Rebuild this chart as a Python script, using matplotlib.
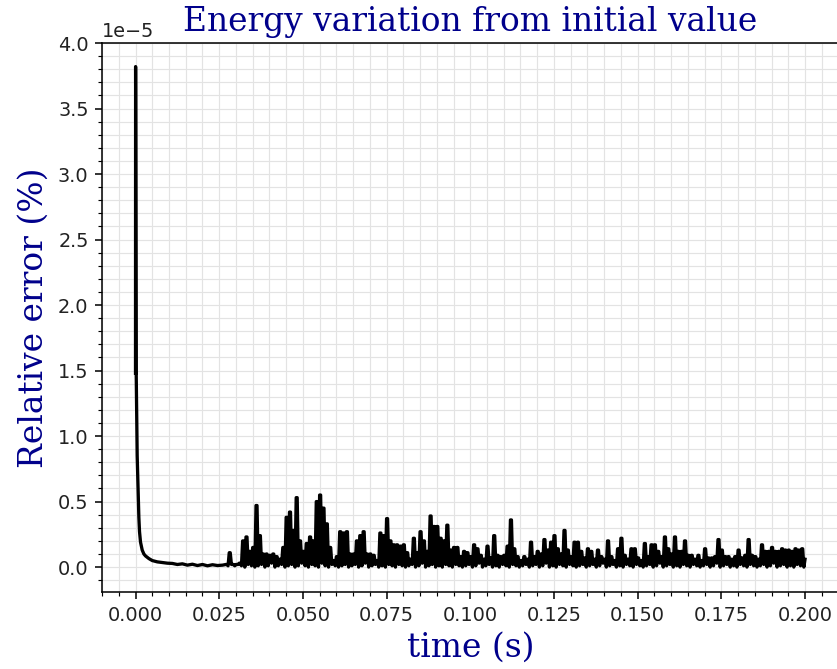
import matplotlib
matplotlib.use("Agg")
import matplotlib.pyplot as plt
from matplotlib.ticker import MultipleLocator
import numpy as np

# start of the run: jump then fast decay (time in s, error in units of 1e-5 %)
t_start = [0.0, 0.00003, 0.0002, 0.0005, 0.0008, 0.0010, 0.0012, 0.0015, 0.0020,
           0.0025, 0.0030, 0.0040, 0.0050, 0.0065, 0.0080, 0.0095, 0.0110, 0.0125,
           0.0140, 0.0155, 0.0170, 0.0185, 0.0200, 0.0215, 0.0230, 0.0245, 0.0260]
err_start = [1.48, 3.82, 1.50, 0.85, 0.55, 0.38, 0.27, 0.19, 0.13,
             0.10, 0.085, 0.065, 0.05, 0.04, 0.035, 0.03, 0.028, 0.02,
             0.025, 0.015, 0.022, 0.012, 0.02, 0.01, 0.018, 0.012, 0.015]

# noisy part, upper values every 1 ms from 27 ms to 200 ms
t_hi_ms = list(range(27, 201))
err_hi = [
    0.02, 0.11, 0.02, 0.02, 0.03, 0.20, 0.23, 0.12, 0.15, 0.47,  # 27-36
    0.24, 0.10, 0.10, 0.09, 0.10, 0.08, 0.06, 0.15, 0.38, 0.42,  # 37-46
    0.28, 0.53, 0.20, 0.12, 0.18, 0.23, 0.20, 0.50, 0.55, 0.45,  # 47-56
    0.33, 0.15, 0.05, 0.08, 0.27, 0.26, 0.27, 0.10, 0.10, 0.20,  # 57-66
    0.24, 0.27, 0.10, 0.10, 0.09, 0.05, 0.26, 0.24, 0.37, 0.20,  # 67-76
    0.17, 0.17, 0.16, 0.17, 0.11, 0.06, 0.22, 0.11, 0.27, 0.20,  # 77-86
    0.12, 0.39, 0.31, 0.31, 0.22, 0.20, 0.32, 0.13, 0.15, 0.15,  # 87-96
    0.08, 0.12, 0.11, 0.08, 0.17, 0.14, 0.09, 0.06, 0.16, 0.07,  # 97-106
    0.24, 0.09, 0.08, 0.09, 0.16, 0.36, 0.14, 0.08, 0.05, 0.08,  # 107-116
    0.06, 0.19, 0.08, 0.12, 0.10, 0.21, 0.13, 0.19, 0.24, 0.14,  # 117-126
    0.10, 0.28, 0.13, 0.08, 0.19, 0.19, 0.12, 0.07, 0.14, 0.12,  # 127-136
    0.06, 0.13, 0.08, 0.06, 0.20, 0.08, 0.05, 0.14, 0.22, 0.09,  # 137-146
    0.06, 0.14, 0.14, 0.07, 0.05, 0.18, 0.08, 0.17, 0.17, 0.12,  # 147-156
    0.08, 0.23, 0.14, 0.10, 0.23, 0.12, 0.12, 0.20, 0.09, 0.09,  # 157-166
    0.06, 0.09, 0.05, 0.14, 0.07, 0.07, 0.08, 0.21, 0.13, 0.08,  # 167-176
    0.08, 0.06, 0.08, 0.13, 0.07, 0.09, 0.21, 0.09, 0.08, 0.06,  # 177-186
    0.17, 0.12, 0.12, 0.15, 0.12, 0.12, 0.14, 0.13, 0.13, 0.12,  # 187-196
    0.14, 0.13, 0.14, 0.06,                                      # 197-200
]
# lower values between the upper ones
err_lo = [
    0.01, 0.02, 0.01, 0.02, 0.01, 0.00, 0.02, 0.01, 0.00, 0.01,
    0.02, 0.00, 0.01, 0.03, 0.00, 0.01, 0.02, 0.00, 0.01, 0.02,
    0.00, 0.01, 0.03, 0.01, 0.00, 0.02, 0.01, 0.00, 0.03, 0.01,
    0.00, 0.02, 0.01, 0.00, 0.01, 0.02, 0.00, 0.01, 0.02, 0.00,
    0.01, 0.03, 0.00, 0.01, 0.02, 0.00, 0.01, 0.00, 0.02, 0.01,
    0.00, 0.02, 0.01, 0.00, 0.01, 0.02, 0.00, 0.01, 0.03, 0.00,
    0.01, 0.02, 0.00, 0.01, 0.00, 0.02, 0.01, 0.00, 0.02, 0.01,
    0.00, 0.01, 0.02, 0.00, 0.01, 0.03, 0.00, 0.01, 0.02, 0.00,
    0.01, 0.00, 0.02, 0.01, 0.00, 0.02, 0.01, 0.00, 0.01, 0.02,
    0.00, 0.01, 0.02, 0.00, 0.01, 0.03, 0.00, 0.01, 0.00, 0.02,
    0.01, 0.00, 0.02, 0.01, 0.00, 0.01, 0.02, 0.00, 0.01, 0.02,
    0.00, 0.01, 0.03, 0.00, 0.01, 0.02, 0.00, 0.01, 0.00, 0.02,
    0.01, 0.00, 0.02, 0.01, 0.00, 0.01, 0.02, 0.00, 0.01, 0.03,
    0.00, 0.01, 0.02, 0.00, 0.01, 0.00, 0.02, 0.01, 0.00, 0.02,
    0.01, 0.00, 0.01, 0.02, 0.00, 0.01, 0.03, 0.00, 0.01, 0.02,
    0.00, 0.01, 0.00, 0.02, 0.01, 0.00, 0.02, 0.01, 0.00, 0.01,
    0.02, 0.00, 0.01, 0.03, 0.00, 0.01, 0.02, 0.00, 0.01, 0.00,
    0.02, 0.01, 0.00,
]

title_color = "darkblue"


def build_series():
    # each upper value is held for 0.3 ms, then the line drops to the lower value
    t = list(t_start)
    e = list(err_start)
    for i in range(len(t_hi_ms)):
        t.append(t_hi_ms[i] / 1000.0)
        e.append(err_hi[i])
        if i < len(err_lo):
            t.append((t_hi_ms[i] + 0.3) / 1000.0)
            e.append(err_hi[i])
            t.append((t_hi_ms[i] + 0.65) / 1000.0)
            e.append(err_lo[i])
    return np.array(t), np.array(e) * 1e-5


def main():
    t, e = build_series()

    dpi = 139
    fig = plt.figure(figsize=(837 / dpi, 669 / dpi), dpi=dpi)
    ax = fig.add_axes([0.1219, 0.1151, 0.8799, 0.8206])

    ax.plot(t, e, color="black", linewidth=1.7)

    ax.set_xlim(-0.01, 0.21)
    ax.set_ylim(-0.19e-5, 4.0e-5)
    ax.xaxis.set_major_locator(MultipleLocator(0.025))
    ax.xaxis.set_minor_locator(MultipleLocator(0.005))
    ax.yaxis.set_major_locator(MultipleLocator(0.5e-5))
    ax.yaxis.set_minor_locator(MultipleLocator(0.1e-5))
    ax.grid(which="both", color="#e3e3e3", linewidth=0.6)
    ax.set_axisbelow(True)
    ax.spines["right"].set_visible(False)
    ax.tick_params(labelcolor="#222222")

    ax.set_title("Energy variation from initial value", family="DejaVu Serif",
                 fontsize=17, color=title_color)
    ax.set_xlabel("time (s)", family="DejaVu Serif", fontsize=17, color=title_color)
    ax.set_ylabel("Relative error (%)", family="DejaVu Serif", fontsize=17,
                  color=title_color)

    fig.savefig("out.png", dpi=dpi)
    plt.close(fig)


if __name__ == "__main__":
    main()
